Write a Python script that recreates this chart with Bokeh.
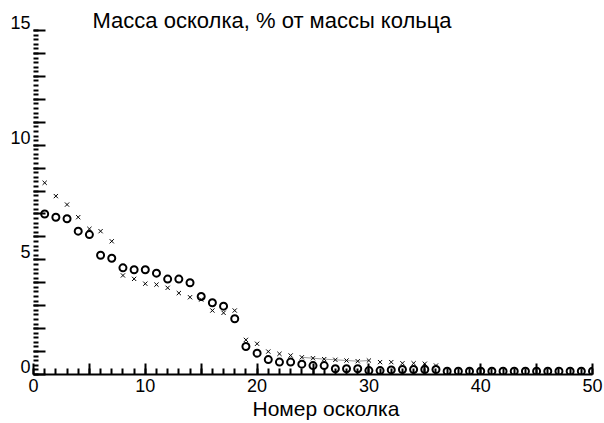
import numpy as np
from bokeh.plotting import figure
from bokeh.models import Range1d, LinearAxis, FixedTicker, Label, Title
from bokeh.embed import file_html
from bokeh.resources import INLINE

# ---- data ----
fragment_o = list(range(1, 51))
mass_o = [7.0, 6.86, 6.79, 6.25, 6.1, 5.2, 5.07, 4.65, 4.57, 4.57,
          4.42, 4.16, 4.16, 4.0, 3.4, 3.13, 2.98, 2.43, 1.22, 0.93,
          0.65, 0.54, 0.54, 0.45, 0.39, 0.39, 0.25, 0.25, 0.25, 0.17,
          0.17, 0.2, 0.22, 0.22, 0.22, 0.22, 0.14, 0.14, 0.14, 0.14,
          0.14, 0.14, 0.14, 0.14, 0.14, 0.14, 0.14, 0.14, 0.14, 0.14]
fragment_x = list(range(1, 37))
mass_x = [8.36, 7.78, 7.41, 6.86, 6.35, 6.25, 5.81, 4.32, 4.17, 3.96,
          3.92, 3.78, 3.55, 3.37, 3.27, 2.79, 2.69, 2.79, 1.51, 1.34,
          1.0, 0.9, 0.83, 0.75, 0.71, 0.67, 0.64, 0.61, 0.58, 0.61,
          0.54, 0.54, 0.49, 0.49, 0.47, 0.39]
x_tick_labels = ["0", "10", "20", "30", "40", "50"]
y_tick_labels = ["0", "5", "10", "15"]
title_text = "Масса осколка, % от массы кольца"
xlabel_text = "Номер осколка"

FONT = "Liberation Sans"
Y_TOP = 16.31
LAB_SHIFT = 0.35

p = figure(width=604, height=423, output_backend="svg", toolbar_location=None,
           x_range=Range1d(0, 50), y_range=Range1d(0, Y_TOP),
           x_axis_location=None, y_axis_location=None,
           min_border_left=33, min_border_right=12, min_border_top=0,
           min_border_bottom=49)
p.outline_line_color = None
p.background_fill_color = "white"
p.border_fill_color = "white"
for g in p.grid:
    g.visible = False

# x axis
x_major = list(range(0, 51, 5))
xax = LinearAxis(ticker=FixedTicker(ticks=x_major, minor_ticks=list(range(0, 51))))
overrides = {}
lab_iter = iter(x_tick_labels)
for t in x_major:
    overrides[t] = next(lab_iter) if t % 10 == 0 else ""
xax.major_label_overrides = overrides
xax.major_tick_in = 11
xax.major_tick_out = 0
xax.minor_tick_in = 6
xax.minor_tick_out = 0
xax.major_tick_line_width = 2
xax.minor_tick_line_width = 2
xax.axis_line_width = 2
xax.major_label_standoff = 4
xax.major_label_text_font = FONT
xax.major_label_text_font_size = "18px"
xax.major_label_text_color = "black"
p.add_layout(xax, "below")

# x axis caption, placed like the original (a little right of centre)
p.add_layout(Title(text=xlabel_text, align="left", offset=219, standoff=0,
                   text_font=FONT, text_font_size="21px",
                   text_font_style="normal", text_color="black"), "below")

# y axis ticks (no labels)
y_major = list(range(0, 16))
yt = LinearAxis(ticker=FixedTicker(ticks=y_major,
                                   minor_ticks=[round(v, 1) for v in np.arange(0, 15.01, 0.2)]))
yt.major_label_overrides = {t: "" for t in y_major}
yt.major_label_standoff = 0
yt.major_tick_in = 12
yt.major_tick_out = 0
yt.minor_tick_in = 5
yt.minor_tick_out = 0
yt.major_tick_line_width = 2
yt.minor_tick_line_width = 2
yt.axis_line_color = None
p.add_layout(yt, "left")

# y labels, drawn slightly above their ticks as in the original
p.extra_y_ranges = {"lab": Range1d(-LAB_SHIFT, Y_TOP - LAB_SHIFT)}
yl = LinearAxis(y_range_name="lab",
                ticker=FixedTicker(ticks=[float(s) for s in y_tick_labels]))
yl.major_tick_in = 0
yl.major_tick_out = 0
yl.minor_tick_in = 0
yl.minor_tick_out = 0
yl.axis_line_color = None
yl.major_label_standoff = 3
yl.major_label_text_font = FONT
yl.major_label_text_font_size = "18px"
yl.major_label_text_color = "black"
p.add_layout(yl, "left")

# series
p.line(fragment_x[23:30], mass_x[23:30], line_color="#9a9a9a", line_width=1)
p.scatter(fragment_x, mass_x, marker="x", size=6, line_color="black", line_width=1)
p.scatter(fragment_o, mass_o, marker="circle", size=7, fill_color=None,
          line_color="black", line_width=2)

# title
p.add_layout(Label(x=5.28, y=15.44, text=title_text, text_font=FONT,
                   text_font_size="22px", text_color="black",
                   text_baseline="middle", text_align="left"))

open("out.html", "w").write(file_html(p, INLINE))
